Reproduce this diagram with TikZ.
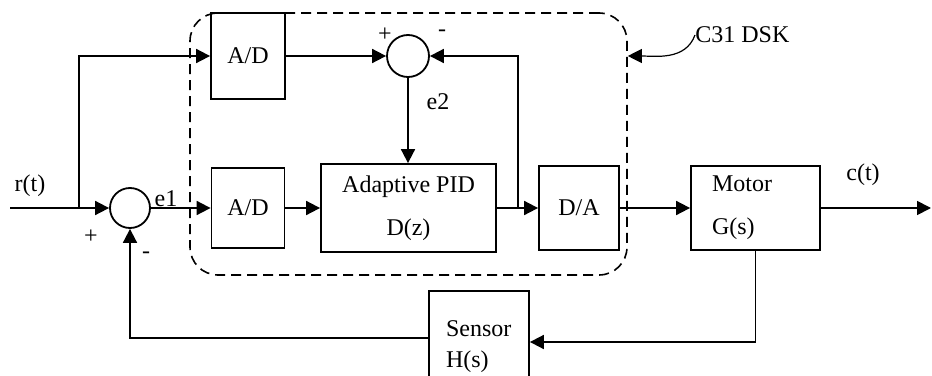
\documentclass[tikz,border=0pt]{standalone}
\usepackage{fontspec}
\setmainfont{Liberation Serif}
\usetikzlibrary{positioning, calc, arrows.meta}

\begin{document}
\begin{tikzpicture}[
    x=0.5pt, y=-0.5pt,
    font=\fontsize{12}{14}\selectfont,
    block/.style={rectangle, draw, line width=0.9pt, inner sep=0pt, align=center, font=\fontsize{12}{21.5}\selectfont},
    sumnode/.style={circle, draw, line width=0.9pt, inner sep=0pt, minimum size=#1},
    sig/.style={line width=0.9pt, -{Triangle[length=7pt, width=7pt]}},
    board/.style={rectangle, draw, dash pattern=on 5pt off 3pt, line width=0.8pt, rounded corners=14pt, minimum width=218.5pt, minimum height=131pt},
    lbl/.style={inner sep=0pt}
  ]
  \useasboundingbox (0,0) rectangle (932,375);

  \node[board] (dsk) at (408.5,144) {};

  \node[sumnode=20pt] (sum1) at (130,208) {};
  \node[sumnode=21pt] (sum2) at (408,56) {};
  \node[block, minimum width=37pt, minimum height=43pt] (adtop) at (248,56) {A/D};
  \node[block, minimum width=36.5pt, minimum height=40pt] (adbot) at (248,208) {A/D};
  \node[block, minimum width=87.5pt, minimum height=44pt] (pid) at (408.5,208) {Adaptive PID\\D(z)};
  \node[block, minimum width=40pt, minimum height=42pt] (da) at (579,208) {D/A};
  \node[block, minimum width=64.5pt, minimum height=42pt, text width=43.5pt, align=left] (motor) at (755.5,208) {Motor\\G(s)};
  \node[block, minimum width=50pt, minimum height=56pt, text width=33pt, align=left, font=\fontsize{12}{15.5}\selectfont] (sensor) at (479,347) {Sensor\\H(s)};

  \coordinate (rin) at (10,208);
  \coordinate (split) at (79,208);
  \coordinate (tap) at (518,208);
  \coordinate (cout) at (931,208);

  \draw[sig] (rin) -- (sum1.west);
  \draw[sig] (split) |- (adtop.west);
  \draw[sig] (sum1.east) -- (adbot.west);
  \draw[sig] (adbot.east) -- (pid.west);
  \draw[sig] (adtop.east) -- (sum2.west);
  \draw[sig] (sum2.south) -- (sum2.south |- pid.north);
  \draw[sig] (pid.east) -- (da.west);
  \draw[sig] (tap) |- (sum2.east);
  \draw[sig] (da.east) -- (motor.west);
  \draw[sig] (motor.east) -- (cout);
  \draw[sig] (motor.south) |- ([yshift=2.5pt]sensor.east);
  \draw[sig] ([yshift=4.5pt]sensor.west) -| (sum1.south);

  \node[lbl] (rlab) at (30,186) {r(t)};
  \node[lbl] (plus1) at (91,237) {+};
  \node[lbl] (minus1) at (146,255) {-};
  \node[lbl] (e1) at (166,199) {e1};
  \node[lbl] (plus2) at (385,35) {+};
  \node[lbl] (minus2) at (442,33) {-};
  \node[lbl] (e2) at (438,102) {e2};
  \node[lbl] (clab) at (863,175) {c(t)};
  \node[lbl, anchor=west] (c31) at (695,35) {C31 DSK};
  \draw[line width=0.6pt, -{Triangle[length=7pt, width=7pt]}] (c31.west) to[out=-110, in=0] (dsk.east |- sum2);
\end{tikzpicture}
\end{document}
